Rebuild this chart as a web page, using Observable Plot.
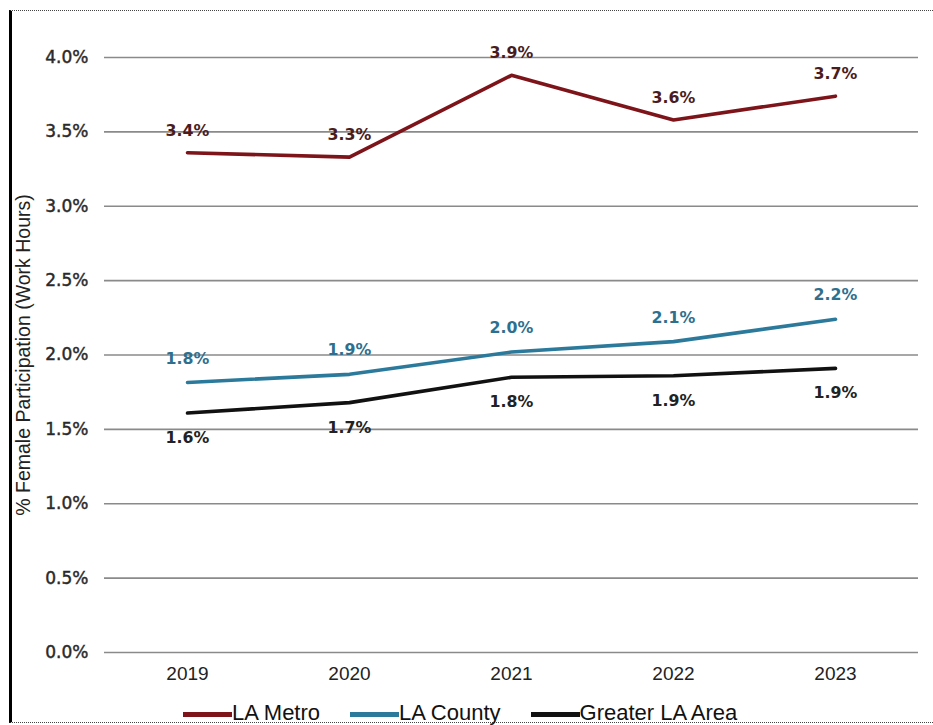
<!DOCTYPE html>
<html>
<head>
<meta charset="utf-8">
<script src="https://cdn.jsdelivr.net/npm/d3@7"></script>
<script src="https://cdn.jsdelivr.net/npm/@observablehq/plot@0.6"></script>
<style>
  html, body { margin: 0; padding: 0; background: #fff; }
  #wrap { position: relative; width: 933px; height: 725px; overflow: hidden; }
  #frame { position: absolute; left: 9px; top: 10px; width: 924px; height: 713px;
           border-left: 3px solid #000; border-top: 1px dotted #444; border-bottom: 1px dotted #444; box-sizing: border-box; }
  #chart { position: absolute; left: 0; top: 0; }
  #legend { position: absolute; left: 183px; top: 701px; height: 24px; display: flex; align-items: center;
            font-family: "Liberation Sans", Arial, sans-serif; font-size: 22px; line-height: 22px; color: #111; }
  .item { display: flex; align-items: center; margin-right: 30px; white-space: nowrap; }
  .sw { width: 49px; height: 5px; position: relative; top: 1px; }
</style>
</head>
<body>
<div id="wrap">
  <div id="frame"></div>
  <div id="chart"></div>
  <div id="legend"></div>
</div>
<script>
const years = ["2019", "2020", "2021", "2022", "2023"];
const seriesNames = ["LA Metro", "LA County", "Greater LA Area"];
const laMetro = [3.36, 3.33, 3.88, 3.58, 3.74];
const laCounty = [1.815, 1.87, 2.02, 2.09, 2.24];
const greaterLA = [1.61, 1.68, 1.85, 1.86, 1.91];
const laMetroLabels = ["3.4%", "3.3%", "3.9%", "3.6%", "3.7%"];
const laCountyLabels = ["1.8%", "1.9%", "2.0%", "2.1%", "2.2%"];
const greaterLALabels = ["1.6%", "1.7%", "1.8%", "1.9%", "1.9%"];
const yTicks = [0, 0.5, 1, 1.5, 2, 2.5, 3, 3.5, 4];

const lineColors = ["#7d1419", "#2c7a9b", "#111111"];
const labelColors = ["#4a1c1e", "#2f6f8e", "#222222"];
const labelDy = [-22, -24, 25];

const valuesBySeries = [laMetro, laCounty, greaterLA];
const labelsBySeries = [laMetroLabels, laCountyLabels, greaterLALabels];
const rows = [];
seriesNames.forEach((s, i) => years.forEach((y, j) => rows.push({series: s, year: y, value: valuesBySeries[i][j], label: labelsBySeries[i][j]})));

const marks = [
  Plot.gridY(yTicks, {stroke: "#8a8a8a", strokeOpacity: 1, strokeWidth: 1.6}),
  Plot.axisY(yTicks, {tickSize: 0, tickPadding: 16, tickFormat: d => d.toFixed(1) + "%",
    fontFamily: "DejaVu Sans", fontSize: 17, fill: "#2a2a2a",
    label: "% Female Participation (Work Hours)", labelAnchor: "center", labelArrow: "none", labelOffset: 88}),
  Plot.axisX({tickSize: 0, tickPadding: 14, fontFamily: "Liberation Sans", fontSize: 19, fill: "#222", label: null})
];
seriesNames.forEach((s, i) => {
  const d = rows.filter(r => r.series === s);
  marks.push(Plot.line(d, {x: "year", y: "value", stroke: lineColors[i], strokeWidth: 3.6, strokeLinecap: "round"}));
  marks.push(Plot.text(d, {x: "year", y: "value", text: "label", dy: labelDy[i], fill: labelColors[i],
    fontFamily: "DejaVu Sans", fontSize: 15.8, fontWeight: "bold"}));
});

const chart = Plot.plot({
  width: 933,
  height: 690,
  marginLeft: 104,
  marginRight: 15,
  marginTop: 57,
  marginBottom: 38,
  x: {type: "point", domain: years, padding: 0.5},
  y: {domain: [0, 4]},
  style: {background: "transparent", overflow: "visible"},
  marks
});
chart.querySelectorAll("g[aria-label='y-axis label'] text").forEach(t => {
  t.setAttribute("font-family", "Liberation Sans, Arial, sans-serif");
  t.setAttribute("font-size", "19.5");
  t.setAttribute("fill", "#222");
});
chart.querySelectorAll("g[aria-label='y-axis tick label'] text").forEach(t => {
  t.setAttribute("stroke", "#2a2a2a");
  t.setAttribute("stroke-width", "0.45");
});
document.getElementById("chart").appendChild(chart);

const legend = document.getElementById("legend");
seriesNames.forEach((s, i) => {
  const it = document.createElement("div");
  it.className = "item";
  const sw = document.createElement("div");
  sw.className = "sw";
  sw.style.background = lineColors[i];
  const tx = document.createElement("span");
  tx.textContent = s;
  it.appendChild(sw); it.appendChild(tx);
  legend.appendChild(it);
});
</script>
</body>
</html>
